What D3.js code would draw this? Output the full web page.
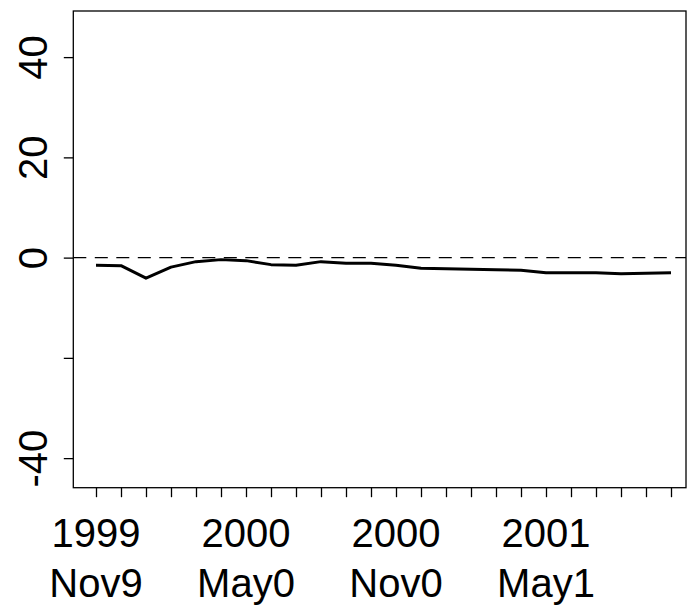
<!DOCTYPE html>
<html>
<head>
<meta charset="utf-8">
<script src="https://cdn.jsdelivr.net/npm/d3@7"></script>
<style>
  html, body { margin: 0; padding: 0; background: #fff; }
  svg { display: block; }
  text { font-family: "Liberation Sans", Arial, sans-serif; fill: #000; }
</style>
</head>
<body>
<svg id="chart" width="693" height="606"></svg>
<script>
// Monthly observations, Nov 1999 through Oct 2001
const months = d3.range(24);
const values = [-1.5, -1.6, -4.1, -1.9, -0.8, -0.4, -0.6, -1.4, -1.5, -0.8, -1.1, -1.1,
                -1.5, -2.1, -2.2, -2.3, -2.4, -2.5, -3.0, -3.0, -3.0, -3.2, -3.1, -3.0];

// Axis ticks and labels
const yTicks = [-40, -20, 0, 20, 40];
const yTickLabels = ["-40", "", "0", "20", "40"];
const xLabelPositions = [0, 6, 12, 18];
const xLabelTop = ["1999", "2000", "2000", "2001"];
const xLabelBottom = ["Nov9", "May0", "Nov0", "May1"];

const svg = d3.select("#chart");
const plot = { left: 73.3, right: 686, top: 11, bottom: 487.7 };
const fontSize = 40;

const x = d3.scaleLinear().domain([-0.908, 23.6]).range([plot.left, plot.right]);
const y = d3.scaleLinear().domain([-45.9, 49.2]).range([plot.bottom, plot.top]);

// Reference line at zero
svg.append("line")
  .attr("x1", plot.left).attr("x2", plot.right)
  .attr("y1", y(0)).attr("y2", y(0))
  .attr("stroke", "#000").attr("stroke-width", 1.2)
  .attr("stroke-dasharray", "13,8.5");

// Series
const line = d3.line().x((d, i) => x(months[i])).y(d => y(d));
svg.append("path")
  .datum(values)
  .attr("d", line)
  .attr("fill", "none")
  .attr("stroke", "#000")
  .attr("stroke-width", 3)
  .attr("stroke-linejoin", "round");

// Plot frame
svg.append("rect")
  .attr("x", plot.left).attr("y", plot.top)
  .attr("width", plot.right - plot.left).attr("height", plot.bottom - plot.top)
  .attr("fill", "none").attr("stroke", "#000").attr("stroke-width", 1.3);

// Y axis
const yAxis = d3.axisLeft(y).tickValues(yTicks).tickSize(9.5)
  .tickFormat((d, i) => yTickLabels[i]);
const gy = svg.append("g").attr("transform", `translate(${plot.left},0)`).call(yAxis);
gy.select(".domain").remove();
gy.selectAll(".tick line").attr("stroke", "#000").attr("stroke-width", 1.3);
gy.selectAll(".tick text")
  .attr("font-size", fontSize)
  .attr("text-anchor", "middle")
  .attr("dy", 0)
  .attr("x", 0)
  .attr("transform", "translate(-26,0) rotate(-90)")
  .attr("font-family", "Liberation Sans, Arial, sans-serif");

// X axis
const xAxis = d3.axisBottom(x).tickValues(months).tickSize(9.5).tickFormat("");
const gx = svg.append("g").attr("transform", `translate(0,${plot.bottom})`).call(xAxis);
gx.select(".domain").remove();
gx.selectAll(".tick line").attr("stroke", "#000").attr("stroke-width", 1.3);

const xl = svg.append("g").selectAll("text")
  .data(xLabelPositions)
  .join("text")
  .attr("text-anchor", "middle")
  .attr("font-size", fontSize);
xl.append("tspan").attr("x", d => x(d)).attr("y", 547).text((d, i) => xLabelTop[i]);
xl.append("tspan").attr("x", d => x(d)).attr("y", 597).text((d, i) => xLabelBottom[i]);
</script>
</body>
</html>
